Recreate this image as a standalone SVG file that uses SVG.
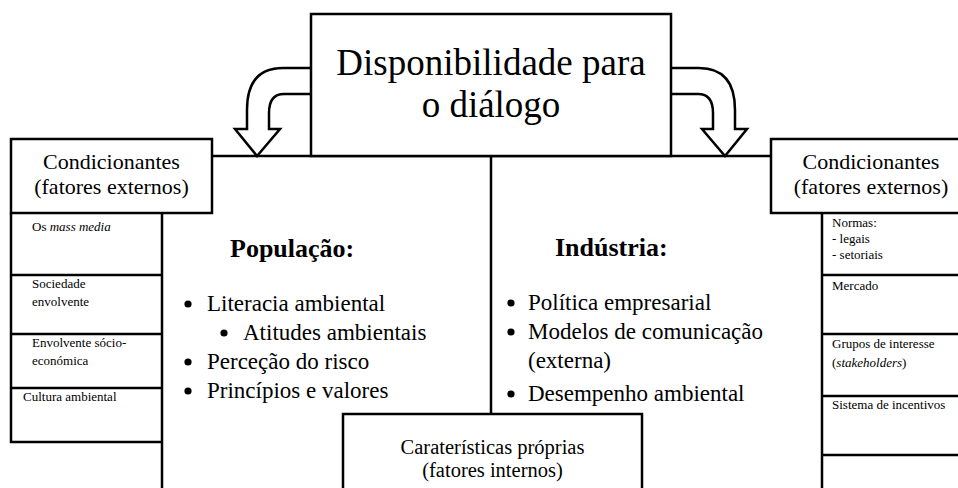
<svg xmlns="http://www.w3.org/2000/svg" width="958" height="488" viewBox="0 0 958 488">
<style>
.ln{fill:none;stroke:#000;stroke-width:2.5}
.bx{fill:#fff;stroke:#000;stroke-width:2.5}
.t{font-family:"Liberation Serif","Times New Roman",serif;fill:#000}
.big{font-size:37px}
.med{font-size:22px}
.bul{font-size:23px}
.hd{font-size:26px;font-weight:bold}
.sm{font-size:13px}
.bot{font-size:20.5px}
.dot{fill:#000}
</style>
<rect width="958" height="488" fill="#fff"/>
<g id="connectors">
<line class="ln" x1="212" y1="156" x2="771" y2="156"/>
<line class="ln" x1="491" y1="156" x2="491" y2="414"/>
<line class="ln" x1="162" y1="213" x2="162" y2="488"/>
<line class="ln" x1="822" y1="213" x2="822" y2="488"/>
<path class="bx" d="M311,68 H283 Q247,68 247,110 V129 H235 L257,156 L280,129 H269 V113 Q269,94 284,94 H311"/>
<path class="bx" d="M671,68 H699 Q735,68 735,110 V129 H747 L725,156 L702,129 H713 V113 Q713,94 698,94 H671"/>
</g>
<g id="title">
<rect class="bx" x="311" y="14" width="360" height="142"/>
<text class="t big" x="491" y="75" text-anchor="middle">Disponibilidade para</text>
<text class="t big" x="491" y="117" text-anchor="middle">o diálogo</text>
</g>
<g id="cond-left">
<rect class="bx" x="11" y="139" width="201" height="74"/>
<text class="t med" x="111.5" y="169" text-anchor="middle">Condicionantes</text>
<text class="t med" x="111.5" y="194" text-anchor="middle">(fatores externos)</text>
</g>
<g id="cells-left">
<path class="ln" d="M11,213 V442 H162 M11,275 H162 M11,334 H162 M11,388 H162"/>
<text class="t sm" x="32" y="231">Os <tspan font-style="italic">mass media</tspan></text>
<text class="t sm" x="32" y="288">Sociedade</text>
<text class="t sm" x="32" y="306">envolvente</text>
<text class="t sm" x="32" y="347">Envolvente sócio-</text>
<text class="t sm" x="32" y="365">económica</text>
<text class="t sm" x="23" y="401">Cultura ambiental</text>
</g>
<g id="cond-right">
<rect class="bx" x="771" y="139" width="200" height="74"/>
<text class="t med" x="871" y="169" text-anchor="middle">Condicionantes</text>
<text class="t med" x="871" y="194" text-anchor="middle">(fatores externos)</text>
</g>
<g id="cells-right">
<path class="ln" d="M822,275 H958 M822,334 H958 M822,396 H958 M822,455 H958"/>
<text class="t sm" x="832" y="227">Normas:</text>
<text class="t sm" x="832" y="243">- legais</text>
<text class="t sm" x="832" y="259">- setoriais</text>
<text class="t sm" x="832" y="290">Mercado</text>
<text class="t sm" x="832" y="348">Grupos de interesse</text>
<text class="t sm" x="832" y="367">(<tspan font-style="italic">stakeholders</tspan>)</text>
<text class="t sm" x="832" y="409">Sistema de incentivos</text>
</g>
<g id="populacao">
<text class="t hd" x="230" y="257">População:</text>
<circle class="dot" cx="188" cy="304" r="3.6"/>
<text class="t bul" x="207" y="311">Literacia ambiental</text>
<circle class="dot" cx="224" cy="333" r="3.6"/>
<text class="t bul" x="243" y="340">Atitudes ambientais</text>
<circle class="dot" cx="188" cy="362" r="3.6"/>
<text class="t bul" x="207" y="369">Perceção do risco</text>
<circle class="dot" cx="188" cy="391" r="3.6"/>
<text class="t bul" x="207" y="398">Princípios e valores</text>
</g>
<g id="industria">
<text class="t hd" x="555" y="256">Indústria:</text>
<circle class="dot" cx="511" cy="303" r="3.6"/>
<text class="t bul" x="528" y="310">Política empresarial</text>
<circle class="dot" cx="511" cy="332" r="3.6"/>
<text class="t bul" x="528" y="339">Modelos de comunicação</text>
<text class="t bul" x="528" y="368">(externa)</text>
<circle class="dot" cx="511" cy="394" r="3.6"/>
<text class="t bul" x="528" y="401">Desempenho ambiental</text>
</g>
<g id="caracteristicas">
<rect class="bx" x="343" y="414" width="299" height="90"/>
<text class="t bot" x="492.5" y="454" text-anchor="middle">Caraterísticas próprias</text>
<text class="t bot" x="492.5" y="477" text-anchor="middle">(fatores internos)</text>
</g>
</svg>
